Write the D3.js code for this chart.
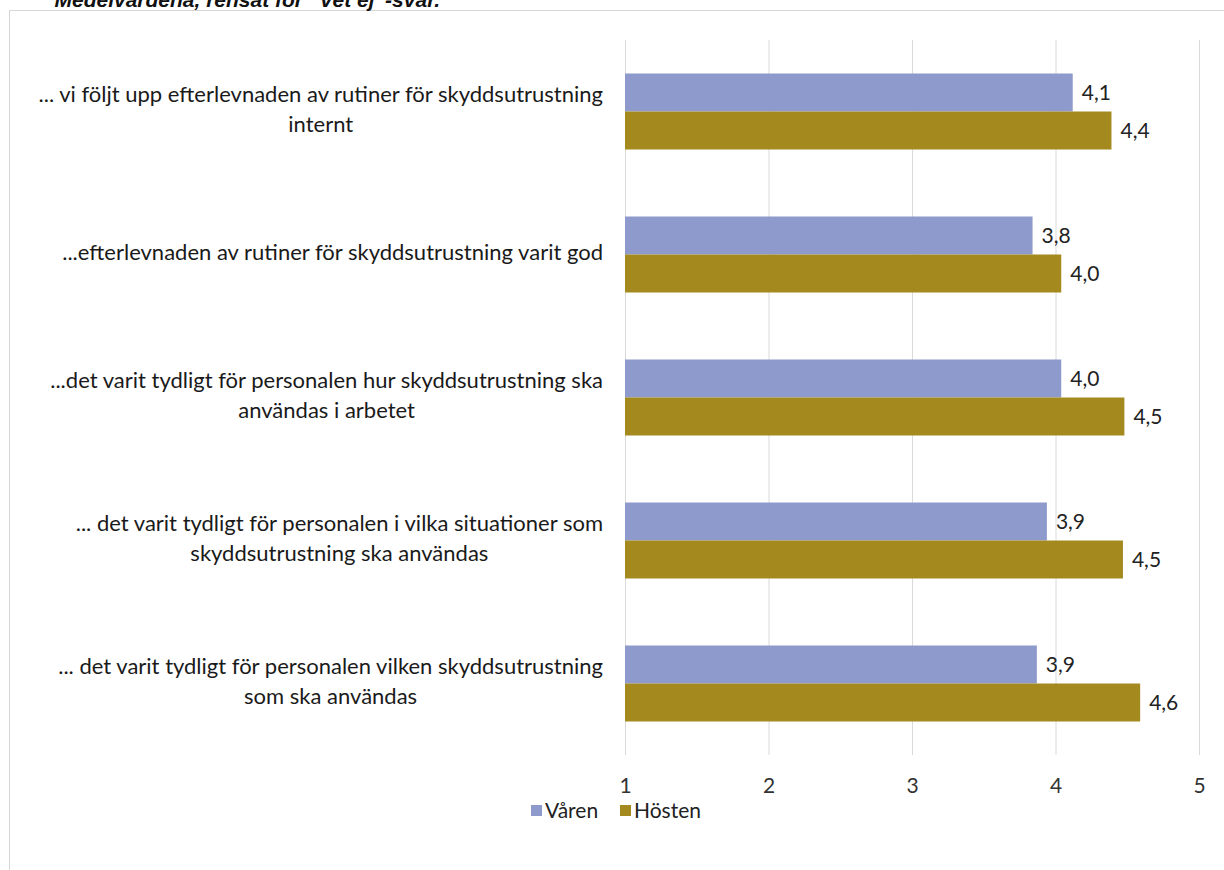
<!DOCTYPE html>
<html><head><meta charset="utf-8">
<script src="https://cdn.jsdelivr.net/npm/d3@7"></script>
<style>
html,body{margin:0;padding:0;background:#fff;}
svg{display:block;}
</style>
</head><body>
<svg id="chart" width="1224" height="870"></svg>
<script>
const titleText = "Medelvärdena, rensat för \u201dVet ej\u201d-svar.";
const categories = [
  ["... vi följt upp efterlevnaden av rutiner för skyddsutrustning", "internt"],
  ["...efterlevnaden av rutiner för skyddsutrustning varit god"],
  ["...det varit tydligt för personalen hur skyddsutrustning ska", "användas i arbetet"],
  ["... det varit tydligt för personalen i vilka situationer som", "skyddsutrustning ska användas"],
  ["... det varit tydligt för personalen vilken skyddsutrustning", "som ska användas"]
];
const seriesNames = ["Våren", "Hösten"];
const varen  = [4.12, 3.84, 4.04, 3.94, 3.87];
const hosten = [4.39, 4.04, 4.48, 4.47, 4.59];
const xTicks = [1, 2, 3, 4, 5];
const colors = ["#8D9ACB", "#A3891E"];

const svg = d3.select("#chart");
const fontLbl = "Lato, 'Open Sans', sans-serif";

// chart frame
svg.append("rect").attr("x", 9.5).attr("y", 10.5).attr("width", 1230).attr("height", 900)
  .attr("fill", "none").attr("stroke", "#d6d6d6").attr("stroke-width", 1);

// cut-off title (partly outside the page, as in the source)
svg.append("text").attr("x", 440).attr("y", 7).attr("text-anchor", "end")
  .attr("font-family", "'Liberation Sans', Arial, sans-serif").attr("font-weight", "bold")
  .attr("font-style", "italic").attr("font-size", 21).attr("fill", "#111").text(titleText);

const x = d3.scaleLinear().domain([1, 5]).range([625, 1199]);
const y = d3.scaleBand().domain(d3.range(categories.length)).range([40, 755]);
const inner = d3.scaleBand().domain([0, 1]).range([0, 76]);

// gridlines
svg.append("g").selectAll("line").data(xTicks).join("line")
  .attr("x1", d => x(d) + 0.5).attr("x2", d => x(d) + 0.5)
  .attr("y1", 40).attr("y2", 755)
  .attr("stroke", "#dadada").attr("stroke-width", 1);

// axis
const axis = d3.axisBottom(x).tickValues(xTicks).tickSize(0).tickPadding(0).tickFormat(d3.format("d"));
const gAxis = svg.append("g").attr("transform", "translate(0,778)").call(axis);
gAxis.select(".domain").remove();
gAxis.selectAll("text").attr("font-family", fontLbl).attr("font-size", 21).attr("fill", "#333").attr("dy", "0.71em");

const fmt = v => d3.format(".1f")(v).replace(".", ",");
const data = [];
categories.forEach((c, i) => {
  data.push({i, s: 0, v: varen[i]});
  data.push({i, s: 1, v: hosten[i]});
});

const barY = d => y(d.i) + (y.bandwidth() - 76) / 2 + inner(d.s);

svg.append("g").selectAll("rect").data(data).join("rect")
  .attr("x", x(1)).attr("y", barY)
  .attr("width", d => x(d.v) - x(1)).attr("height", inner.bandwidth())
  .attr("fill", d => colors[d.s]);

svg.append("g").selectAll("text").data(data).join("text")
  .attr("x", d => x(d.v) + 9).attr("y", d => barY(d) + inner.bandwidth() / 2)
  .attr("dy", "0.35em").attr("font-family", fontLbl).attr("font-size", 21).attr("fill", "#222")
  .text(d => fmt(d.v));

// category labels
const labelRight = 603;
const lineH = 30;
const gCat = svg.append("g").attr("font-family", fontLbl).attr("font-size", 22).attr("fill", "#1a1a1a");
categories.forEach((lines, i) => {
  const cy = y(i) + y.bandwidth() / 2;
  const tmp = gCat.append("text").text(lines[0]);
  let maxW = 0;
  lines.forEach(l => { tmp.text(l); maxW = Math.max(maxW, tmp.node().getComputedTextLength()); });
  tmp.remove();
  const cx = labelRight - maxW / 2;
  lines.forEach((l, k) => {
    gCat.append("text").attr("x", cx).attr("text-anchor", "middle")
      .attr("y", cy + (k - (lines.length - 1) / 2) * lineH).attr("dy", "0.27em").text(l);
  });
});

// legend
const legend = svg.append("g").attr("font-family", fontLbl).attr("font-size", 21).attr("fill", "#222");
const legX = [531, 620];
seriesNames.forEach((n, k) => {
  legend.append("rect").attr("x", legX[k]).attr("y", 805).attr("width", 11).attr("height", 11).attr("fill", colors[k]);
  legend.append("text").attr("x", legX[k] + 14).attr("y", 811).attr("dy", "0.35em").text(n);
});
</script>
</body></html>
